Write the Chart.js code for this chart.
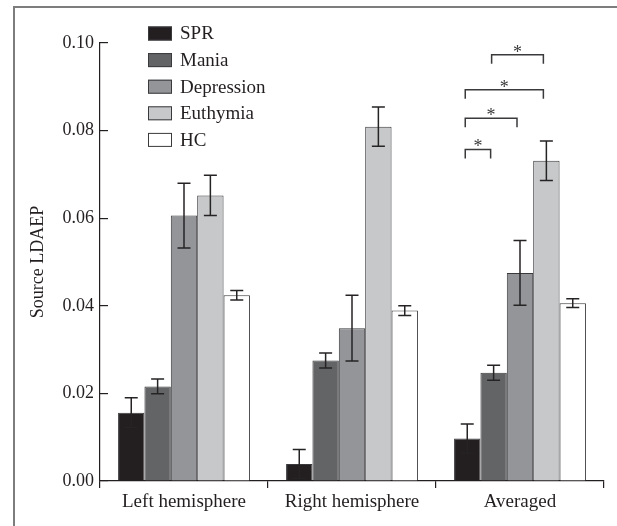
<!DOCTYPE html>
<html>
<head>
<meta charset="utf-8">
<script src="https://cdn.jsdelivr.net/npm/chart.js@4/dist/chart.umd.min.js"></script>
<style>
  html, body { margin: 0; padding: 0; background: #fff; }
  #wrap { width: 617px; height: 526px; }
</style>
</head>
<body>
<div id="wrap"><canvas id="ldaepChart" width="617" height="526"></canvas></div>
<script>
// values
const categories = ['Left hemisphere', 'Right hemisphere', 'Averaged'];
const groupNames = ['SPR', 'Mania', 'Depression', 'Euthymia', 'HC'];

const sprMean = [0.0156, 0.0039, 0.0097];
const maniaMean = [0.0216, 0.0275, 0.0247];
const depressionMean = [0.0606, 0.0349, 0.0475];
const euthymiaMean = [0.0652, 0.0809, 0.0731];
const hcMean = [0.0424, 0.0389, 0.0406];

const sprErr = [0.0034, 0.0033, 0.0033];
const maniaErr = [0.0017, 0.0017, 0.0017];
const depressionErr = [0.0074, 0.0075, 0.0074];
const euthymiaErr = [0.0046, 0.0045, 0.0045];
const hcErr = [0.0011, 0.0011, 0.0010];

const yTicks = [0, 0.02, 0.04, 0.06, 0.08, 0.10];

// significance brackets in the "Averaged" group: [from group, to group]
const sigPairs = [[0, 1], [0, 2], [0, 3], [1, 3]];
const sigLevels = [0.0757, 0.0828, 0.0893, 0.0973];
const sigCategory = 2;

const fills = ['#231f20', '#636466', '#939598', '#c7c8ca', '#ffffff'];
const means = [sprMean, maniaMean, depressionMean, euthymiaMean, hcMean];
const errs = [sprErr, maniaErr, depressionErr, euthymiaErr, hcErr];

const INK = '#231f20';
const SERIF = '"Liberation Serif", "Times New Roman", serif';

const framePlugin = {
    id: 'frame',
    beforeDraw(chart) {
        const ctx = chart.ctx;
        ctx.save();
        ctx.strokeStyle = '#7d7d7d';
        ctx.lineWidth = 2;
        ctx.beginPath();
        ctx.moveTo(14, 526);
        ctx.lineTo(14, 7);
        ctx.lineTo(617, 7);
        ctx.stroke();
        ctx.restore();
    }
};

const errorBarPlugin = {
    id: 'errorBars',
    afterDatasetsDraw(chart) {
        const ctx = chart.ctx;
        const y = chart.scales.y;
        ctx.save();
        ctx.strokeStyle = '#262324';
        ctx.lineWidth = 1.5;
        chart.data.datasets.forEach((ds, di) => {
            const meta = chart.getDatasetMeta(di);
            meta.data.forEach((bar, i) => {
                const m = ds.data[i];
                const e = errs[di][i];
                const top = y.getPixelForValue(m + e);
                const bot = y.getPixelForValue(m - e);
                const cap = 6.5;
                ctx.beginPath();
                ctx.moveTo(bar.x, top);
                ctx.lineTo(bar.x, bot);
                ctx.moveTo(bar.x - cap, top);
                ctx.lineTo(bar.x + cap, top);
                ctx.moveTo(bar.x - cap, bot);
                ctx.lineTo(bar.x + cap, bot);
                ctx.stroke();
            });
        });
        ctx.restore();
    }
};

const sigPlugin = {
    id: 'sigBrackets',
    afterDraw(chart) {
        const ctx = chart.ctx;
        const y = chart.scales.y;
        ctx.save();
        ctx.strokeStyle = '#3a3a3c';
        ctx.fillStyle = '#3a3a3c';
        ctx.lineWidth = 1.5;
        ctx.font = '18px ' + SERIF;
        ctx.textAlign = 'center';
        ctx.textBaseline = 'alphabetic';
        sigPairs.forEach(([a, b], k) => {
            const x1 = chart.getDatasetMeta(a).data[sigCategory].x - 2;
            const x2 = chart.getDatasetMeta(b).data[sigCategory].x - 3;
            const top = y.getPixelForValue(sigLevels[k]);
            const leg = 9;
            ctx.beginPath();
            ctx.moveTo(x1, top + leg);
            ctx.lineTo(x1, top);
            ctx.lineTo(x2, top);
            ctx.lineTo(x2, top + leg);
            ctx.stroke();
            ctx.fillText('*', (x1 + x2) / 2, top + 3);
        });
        ctx.restore();
    }
};

const legendPlugin = {
    id: 'boxLegend',
    afterDraw(chart) {
        const ctx = chart.ctx;
        ctx.save();
        ctx.font = '19px ' + SERIF;
        ctx.textBaseline = 'middle';
        ctx.textAlign = 'left';
        groupNames.forEach((name, i) => {
            const cy = 33.5 + i * 26.6;
            ctx.fillStyle = fills[i];
            ctx.fillRect(148, cy - 7, 24, 14);
            ctx.strokeStyle = '#3a3a3c';
            ctx.lineWidth = 1;
            ctx.strokeRect(148.5, cy - 6.5, 23, 13);
            ctx.fillStyle = INK;
            ctx.fillText(name, 180, cy + 1);
        });
        ctx.restore();
    }
};

function renderChart() {
    const canvas = document.getElementById('ldaepChart');
    if (!canvas) return;

    new Chart(canvas.getContext('2d'), {
        type: 'bar',
        data: {
            labels: categories,
            datasets: groupNames.map((name, i) => ({
                label: name,
                data: means[i],
                backgroundColor: fills[i],
                borderColor: '#3a3a3c',
                borderWidth: 1,
                categoryPercentage: 0.785,
                barPercentage: 1.0
            }))
        },
        options: {
            responsive: false,
            animation: false,
            devicePixelRatio: 1,
            layout: { padding: { left: 20, top: 43, right: 13, bottom: 0 } },
            plugins: {
                legend: { display: false },
                tooltip: { enabled: false }
            },
            scales: {
                x: {
                    grid: {
                        offset: true,
                        drawOnChartArea: false,
                        tickLength: 7,
                        tickColor: INK,
                        lineWidth: 1.2
                    },
                    border: { display: true, color: INK, width: 1.2 },
                    ticks: {
                        color: INK,
                        padding: 3,
                        font: { family: SERIF, size: 19 }
                    },
                    afterFit(scale) { scale.height = 45; }
                },
                y: {
                    min: 0,
                    max: 0.10,
                    afterBuildTicks(scale) { scale.ticks = yTicks.map(v => ({ value: v })); },
                    grid: {
                        drawOnChartArea: false,
                        tickLength: -8,
                        tickColor: INK,
                        lineWidth: 1.2
                    },
                    border: { display: true, color: INK, width: 1.2 },
                    ticks: {
                        color: INK,
                        padding: 14,
                        font: { family: SERIF, size: 18 },
                        callback: v => Number(v).toFixed(2)
                    },
                    title: {
                        display: true,
                        text: 'Source LDAEP',
                        color: INK,
                        padding: { top: 7, bottom: 0 },
                        font: { family: SERIF, size: 18 }
                    },
                    afterFit(scale) { scale.width = 80; }
                }
            }
        },
        plugins: [framePlugin, errorBarPlugin, sigPlugin, legendPlugin]
    });
}

renderChart();
</script>
</body>
</html>
